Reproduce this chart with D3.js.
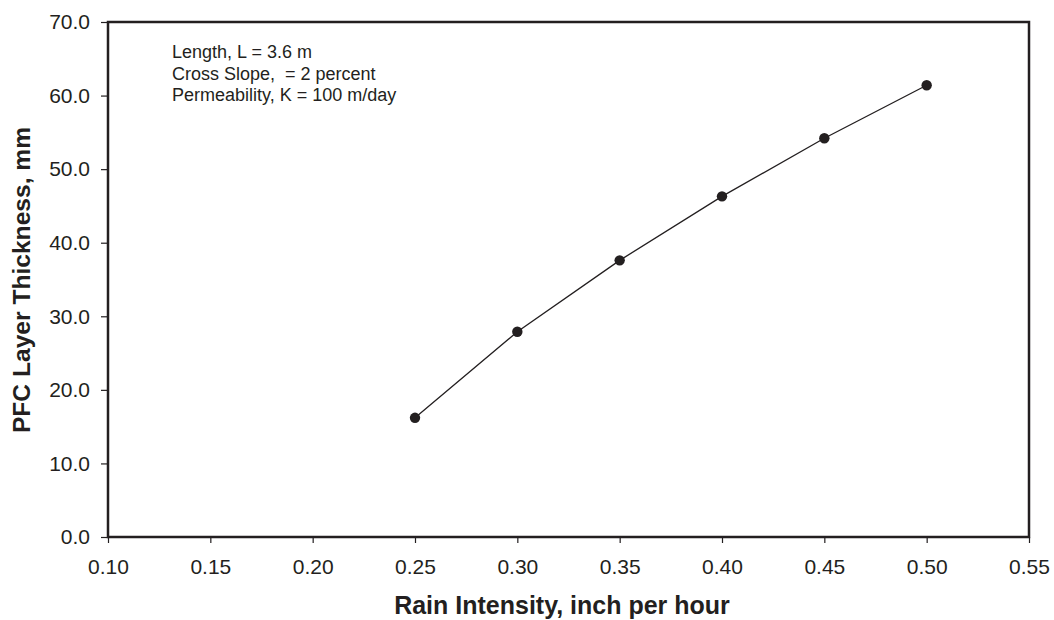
<!DOCTYPE html>
<html>
<head>
<meta charset="utf-8">
<script src="https://cdn.jsdelivr.net/npm/d3@7"></script>
<style>
  body { margin: 0; background: #fff; }
  svg text { font-family: "Liberation Sans", Arial, sans-serif; fill: #231f20; }
</style>
</head>
<body>
<div id="chart"></div>
<script>
const rainIntensity = [0.25, 0.30, 0.35, 0.40, 0.45, 0.50]
const thickness = [16.2, 27.9, 37.6, 46.3, 54.2, 61.4]
const xTicks = [0.10, 0.15, 0.20, 0.25, 0.30, 0.35, 0.40, 0.45, 0.50, 0.55]
const yTicks = [0, 10, 20, 30, 40, 50, 60, 70]
const notes = ['Length, L = 3.6 m', 'Cross Slope,  = 2 percent', 'Permeability, K = 100 m/day']

const width = 1054, height = 620
const margin = {top: 22, right: 25, bottom: 83, left: 108}
const innerWidth = width - margin.left - margin.right
const innerHeight = height - margin.top - margin.bottom

const svg = d3.select('#chart').append('svg')
    .attr('width', width)
    .attr('height', height)

const g = svg.append('g')
    .attr('transform', `translate(${margin.left},${margin.top})`)

const xScale = d3.scaleLinear().domain([0.10, 0.55]).range([0, innerWidth])
const yScale = d3.scaleLinear().domain([0, 70]).range([innerHeight, 0])

const xAxis = d3.axisBottom(xScale)
    .tickValues(xTicks)
    .tickFormat(d3.format('.2f'))
    .tickSize(6)
    .tickPadding(16)

const yAxis = d3.axisLeft(yScale)
    .tickValues(yTicks)
    .tickFormat(d3.format('.1f'))
    .tickSize(7)
    .tickPadding(11)

const xAxisG = g.append('g')
    .attr('transform', `translate(0,${innerHeight})`)
    .call(xAxis)
xAxisG.select('.domain').remove()
xAxisG.selectAll('line').attr('stroke', '#231f20').attr('stroke-width', 1.2)
xAxisG.selectAll('text').style('font-size', '21px')

const yAxisG = g.append('g').call(yAxis)
yAxisG.select('.domain').remove()
yAxisG.selectAll('line').attr('stroke', '#231f20').attr('stroke-width', 1.2)
yAxisG.selectAll('text').style('font-size', '21px')

// frame
g.append('rect')
    .attr('width', innerWidth)
    .attr('height', innerHeight)
    .attr('fill', 'none')
    .attr('stroke', '#231f20')
    .attr('stroke-width', 2.5)

const line = d3.line()
    .x((d, i) => xScale(rainIntensity[i]))
    .y(d => yScale(d))

g.append('path')
    .datum(thickness)
    .attr('d', line)
    .attr('fill', 'none')
    .attr('stroke', '#231f20')
    .attr('stroke-width', 1.3)

g.selectAll('circle').data(thickness)
    .enter()
    .append('circle')
    .attr('cx', (d, i) => xScale(rainIntensity[i]))
    .attr('cy', d => yScale(d))
    .attr('r', 5.2)
    .attr('fill', '#231f20')

g.append('g').selectAll('text').data(notes)
    .enter()
    .append('text')
    .attr('x', 64)
    .attr('y', (d, i) => 36 + i * 21.5)
    .style('font-size', '18px')
    .style('white-space', 'pre')
    .text(d => d)

svg.append('text')
    .attr('x', 562)
    .attr('y', 614)
    .attr('text-anchor', 'middle')
    .style('font-size', '25px')
    .style('font-weight', 'bold')
    .text('Rain Intensity, inch per hour')

svg.append('text')
    .attr('transform', 'translate(30,280) rotate(-90)')
    .attr('text-anchor', 'middle')
    .style('font-size', '24.6px')
    .style('font-weight', 'bold')
    .text('PFC Layer Thickness, mm')
</script>
</body>
</html>
